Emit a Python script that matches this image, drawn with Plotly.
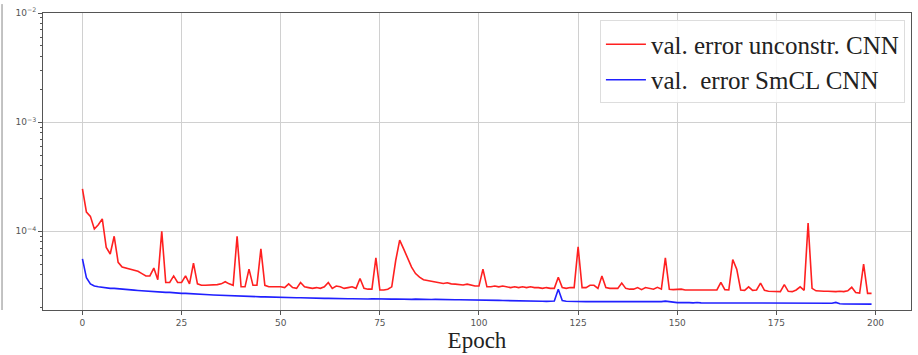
import plotly.graph_objects as go

epochs = list(range(200))

red = [
    2.45e-4, 1.5e-4, 1.37e-4, 1.05e-4, 1.15e-4, 1.3e-4, 7.1e-5, 6.2e-5, 9.0e-5, 5.2e-5,
    4.7e-5, 4.6e-5, 4.5e-5, 4.35e-5, 4.3e-5, 4.1e-5, 3.9e-5, 3.9e-5, 4.6e-5, 3.6e-5,
    1.0e-4, 3.4e-5, 3.4e-5, 3.9e-5, 3.4e-5, 3.4e-5, 3.9e-5, 3.3e-5, 5.1e-5, 3.3e-5,
    3.2e-5, 3.2e-5, 3.2e-5, 3.2e-5, 3.25e-5, 3.3e-5, 3.45e-5, 3.3e-5, 3.2e-5, 9.0e-5,
    3.1e-5, 3.1e-5, 4.5e-5, 3.2e-5, 3.2e-5, 6.9e-5, 3.2e-5, 3.1e-5, 3.1e-5, 3.1e-5,
    3.1e-5, 3.05e-5, 3.3e-5, 3.05e-5, 3.0e-5, 3.4e-5, 3.1e-5, 3.05e-5, 3.0e-5, 3.05e-5,
    3.0e-5, 3.1e-5, 3.4e-5, 3.0e-5, 3.15e-5, 3.1e-5, 3.0e-5, 3.05e-5, 3.1e-5, 3.0e-5,
    3.7e-5, 3.0e-5, 2.95e-5, 2.95e-5, 5.7e-5, 2.9e-5, 2.9e-5, 2.95e-5, 3.1e-5, 5.4e-5,
    8.3e-5, 6.9e-5, 5.6e-5, 4.7e-5, 4.1e-5, 3.8e-5, 3.6e-5, 3.55e-5, 3.5e-5, 3.4e-5,
    3.38e-5, 3.33e-5, 3.38e-5, 3.3e-5, 3.28e-5, 3.25e-5, 3.22e-5, 3.28e-5, 3.2e-5, 3.15e-5,
    3.15e-5, 4.5e-5, 3.1e-5, 3.1e-5, 3.15e-5, 3.1e-5, 3.15e-5, 3.1e-5, 3.05e-5, 3.1e-5,
    3.05e-5, 3.1e-5, 3.05e-5, 3.1e-5, 3.05e-5, 3.05e-5, 3.0e-5, 3.05e-5, 3.0e-5, 3.0e-5,
    3.8e-5, 3.05e-5, 3.0e-5, 3.05e-5, 3.05e-5, 7.2e-5, 3.05e-5, 3.05e-5, 3.2e-5, 3.2e-5,
    3.0e-5, 3.9e-5, 3.05e-5, 3.0e-5, 3.0e-5, 3.0e-5, 3.35e-5, 3.0e-5, 2.95e-5, 2.95e-5,
    3.05e-5, 2.92e-5, 3.05e-5, 3.0e-5, 2.95e-5, 3.07e-5, 2.95e-5, 5.7e-5, 2.94e-5, 2.92e-5,
    2.92e-5, 2.95e-5, 2.9e-5, 2.9e-5, 2.88e-5, 2.92e-5, 2.9e-5, 2.9e-5, 2.92e-5, 2.9e-5,
    2.9e-5, 3.4e-5, 2.92e-5, 2.9e-5, 5.5e-5, 4.5e-5, 2.9e-5, 2.88e-5, 3.1e-5, 2.88e-5,
    2.9e-5, 3.35e-5, 2.88e-5, 2.82e-5, 2.8e-5, 2.78e-5, 2.8e-5, 3.25e-5, 2.82e-5, 2.8e-5,
    2.9e-5, 3.1e-5, 2.88e-5, 1.19e-4, 3.0e-5, 2.85e-5, 2.82e-5, 2.82e-5, 2.82e-5, 2.8e-5,
    2.8e-5, 2.82e-5, 2.8e-5, 2.85e-5, 3.07e-5, 2.75e-5, 2.72e-5, 5.0e-5, 2.7e-5, 2.7e-5,
]

blue = [
    5.6e-5, 3.75e-5, 3.3e-5, 3.15e-5, 3.1e-5, 3.05e-5, 3.03e-5, 3.0e-5, 3.0e-5, 2.97e-5,
    2.94e-5, 2.93e-5, 2.91e-5, 2.89e-5, 2.87e-5, 2.85e-5, 2.84e-5, 2.83e-5, 2.81e-5, 2.79e-5,
    2.77e-5, 2.76e-5, 2.76e-5, 2.73e-5, 2.72e-5, 2.7e-5, 2.7e-5, 2.68e-5, 2.67e-5, 2.66e-5,
    2.65e-5, 2.64e-5, 2.62e-5, 2.61e-5, 2.6e-5, 2.57e-5, 2.58e-5, 2.56e-5, 2.57e-5, 2.55e-5,
    2.54e-5, 2.54e-5, 2.53e-5, 2.53e-5, 2.52e-5, 2.51e-5, 2.51e-5, 2.5e-5, 2.5e-5, 2.49e-5,
    2.48e-5, 2.48e-5, 2.47e-5, 2.47e-5, 2.46e-5, 2.46e-5, 2.45e-5, 2.45e-5, 2.44e-5, 2.44e-5,
    2.43e-5, 2.43e-5, 2.43e-5, 2.42e-5, 2.42e-5, 2.42e-5, 2.41e-5, 2.41e-5, 2.41e-5, 2.4e-5,
    2.4e-5, 2.4e-5, 2.4e-5, 2.41e-5, 2.4e-5, 2.4e-5, 2.4e-5, 2.39e-5, 2.39e-5, 2.4e-5,
    2.39e-5, 2.39e-5, 2.38e-5, 2.38e-5, 2.39e-5, 2.38e-5, 2.38e-5, 2.38e-5, 2.37e-5, 2.38e-5,
    2.37e-5, 2.37e-5, 2.37e-5, 2.36e-5, 2.36e-5, 2.36e-5, 2.36e-5, 2.35e-5, 2.35e-5, 2.35e-5,
    2.35e-5, 2.34e-5, 2.34e-5, 2.33e-5, 2.33e-5, 2.33e-5, 2.32e-5, 2.32e-5, 2.31e-5, 2.31e-5,
    2.3e-5, 2.3e-5, 2.3e-5, 2.3e-5, 2.29e-5, 2.29e-5, 2.29e-5, 2.28e-5, 2.28e-5, 2.3e-5,
    2.94e-5, 2.32e-5, 2.29e-5, 2.28e-5, 2.28e-5, 2.28e-5, 2.27e-5, 2.27e-5, 2.27e-5, 2.27e-5,
    2.27e-5, 2.27e-5, 2.26e-5, 2.26e-5, 2.26e-5, 2.26e-5, 2.26e-5, 2.25e-5, 2.25e-5, 2.25e-5,
    2.25e-5, 2.25e-5, 2.25e-5, 2.26e-5, 2.26e-5, 2.27e-5, 2.27e-5, 2.29e-5, 2.26e-5, 2.24e-5,
    2.22e-5, 2.22e-5, 2.23e-5, 2.22e-5, 2.21e-5, 2.23e-5, 2.21e-5, 2.21e-5, 2.2e-5, 2.21e-5,
    2.2e-5, 2.2e-5, 2.2e-5, 2.2e-5, 2.2e-5, 2.2e-5, 2.2e-5, 2.2e-5, 2.2e-5, 2.2e-5,
    2.2e-5, 2.2e-5, 2.2e-5, 2.2e-5, 2.19e-5, 2.19e-5, 2.19e-5, 2.19e-5, 2.19e-5, 2.19e-5,
    2.19e-5, 2.18e-5, 2.18e-5, 2.18e-5, 2.18e-5, 2.18e-5, 2.18e-5, 2.18e-5, 2.18e-5, 2.19e-5,
    2.23e-5, 2.17e-5, 2.16e-5, 2.16e-5, 2.16e-5, 2.16e-5, 2.15e-5, 2.15e-5, 2.15e-5, 2.15e-5,
]

y_tickvals = [1e-4, 1e-3, 1e-2]
y_ticktext = ["10<sup>\u22124</sup>", "10<sup>\u22123</sup>", "10<sup>\u22122</sup>"]
y_minor_vals = [m * d for d in (1e-5, 1e-4, 1e-3) for m in range(2, 10)]
x_tickvals = [0, 25, 50, 75, 100, 125, 150, 175, 200]

names = ["val. error unconstr. CNN", "val.\u00a0\u00a0error SmCL CNN"]

fig = go.Figure()
fig.add_trace(go.Scatter(x=epochs, y=red, mode="lines", name=names[0],
                         line=dict(color="#ff2020", width=1.6)))
fig.add_trace(go.Scatter(x=epochs, y=blue, mode="lines", name=names[1],
                         line=dict(color="#2020ff", width=1.6)))

axis_common = dict(showline=True, linecolor="#555", linewidth=1, mirror=True,
                   showgrid=True, gridcolor="#d0d0d0", gridwidth=1, zeroline=False,
                   ticks="outside", ticklen=4, tickcolor="#555",
                   tickfont=dict(family="DejaVu Sans", size=9, color="#555"))

fig.update_xaxes(range=[-9.95, 208.95], tickvals=x_tickvals,
                 title=dict(text="Epoch", font=dict(family="Liberation Serif", size=23, color="#222"),
                            standoff=3),
                 **axis_common)
fig.update_yaxes(type="log", range=[-4.721, -2], tickvals=y_tickvals, ticktext=y_ticktext,
                 minor=dict(ticks="outside", ticklen=2, tickcolor="#555", showgrid=False,
                            tickvals=y_minor_vals),
                 **axis_common)

fig.update_layout(
    width=918, height=355,
    margin=dict(l=43, r=6, t=8, b=45),
    plot_bgcolor="white", paper_bgcolor="white",
    showlegend=True,
    legend=dict(x=0.993, y=0.975, xanchor="right", yanchor="top",
                bgcolor="rgba(255,255,255,0.85)", bordercolor="#dddddd", borderwidth=1,
                font=dict(family="Liberation Serif", size=25, color="#222"),
                tracegroupgap=0, itemwidth=40),
    shapes=[dict(type="line", xref="paper", yref="paper", x0=-0.0472, x1=-0.0472,
                 y0=0, y1=1.03, line=dict(color="#888", width=1))],
)

fig.write_html("out.html")
